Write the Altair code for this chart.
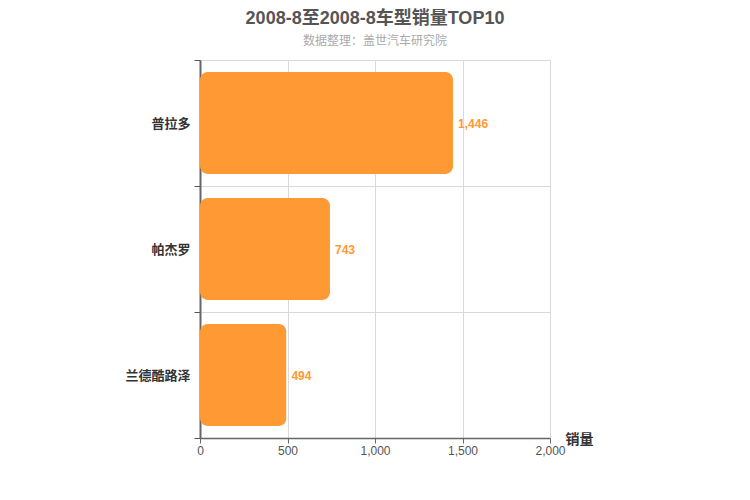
import altair as alt
import pandas as pd

models = ["普拉多", "帕杰罗", "兰德酷路泽"]
sales = [1446, 743, 494]
x_ticks = [0, 500, 1000, 1500, 2000]

df = pd.DataFrame({"车型": models, "销量": sales})
FONT = "Liberation Sans, Arial, Noto Sans CJK SC"
ORANGE = "#FF9933"

base = alt.Chart(df).encode(
    y=alt.Y("车型:N", sort=models,
            scale=alt.Scale(paddingInner=0, paddingOuter=0),
            axis=alt.Axis(title=None, tickBand="extent", labelFontSize=13,
                          labelFontWeight="bold", labelColor="#333",
                          labelPadding=4, tickSize=6, tickColor="#555",
                          domainColor="#666", domainWidth=2,
                          gridColor="#d9d9d9", grid=True, labelFont=FONT)),
    x=alt.X("销量:Q", scale=alt.Scale(domain=[0, 2000]),
            axis=alt.Axis(values=x_ticks, format=",d", labelFontSize=12,
                          labelColor="#555", tickColor="#666", tickSize=5,
                          labelFlush=False,
                          domainColor="#666", domainWidth=1.5,
                          gridColor="#d9d9d9", labelFont=FONT,
                          title="销量", titleX=365, titleY=1,
                          titleAlign="left", titleBaseline="middle",
                          titleFontSize=14, titleFontWeight="bold",
                          titleColor="#333", titleFont=FONT)),
)

bars = base.mark_bar(color=ORANGE, cornerRadius=8,
                     height=alt.RelativeBandSize(band=0.81))
labels = base.mark_text(align="left", baseline="middle", dx=5, dy=1,
                        fontSize=12, fontWeight="bold", color=ORANGE,
                        font=FONT).encode(
    text=alt.Text("销量:Q", format=",d")
)

chart = (bars + labels).properties(
    width=350, height=378,
    padding={"left": 192, "top": 52, "right": 192, "bottom": 50},
    autosize=alt.AutoSizeParams(type="none"),
    title=alt.TitleParams(
        "2008-8至2008-8车型销量TOP10",
        subtitle="数据整理：盖世汽车研究院",
        fontSize=18, fontWeight="bold", color="#555", font=FONT,
        subtitleFontSize=12, subtitleColor="#aaa", subtitleFont=FONT,
        subtitlePadding=8, anchor="middle", offset=7,
    ),
).configure_view(stroke=None)

chart.save("out.html", embed_options={"renderer": "svg", "actions": False})
